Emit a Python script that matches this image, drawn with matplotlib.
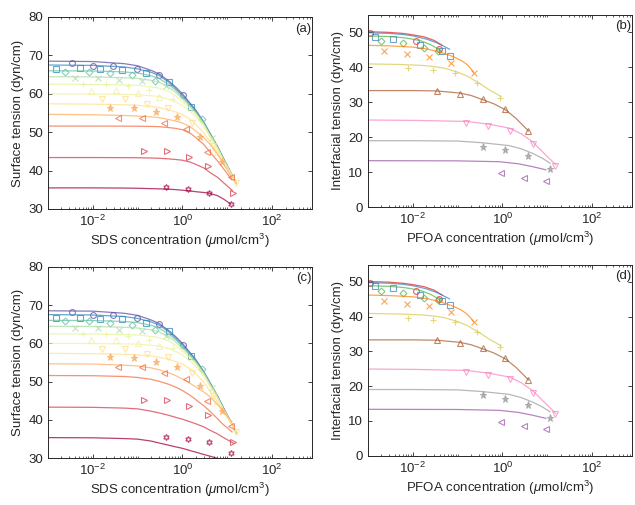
import numpy as np
import matplotlib.pyplot as plt
from matplotlib.ticker import FixedLocator, LogLocator, NullFormatter

plt.rcParams['font.family'] = 'Liberation Sans'
plt.rcParams['mathtext.fontset'] = 'custom'
plt.rcParams['mathtext.rm'] = 'Liberation Sans'
plt.rcParams['mathtext.it'] = 'Liberation Sans:italic'
plt.rcParams['font.size'] = 9.5

# ---- SDS (surface tension) ----
sds_colors = ['#5e4fa2', '#3288bd', '#66c2a5', '#abdda4', '#e6f598', '#f4f0a0',
              '#fee08b', '#fdae61', '#f46d43', '#d53e4f', '#9e0142']
sds_markers = ['o', 's', 'D', 'x', '+', '^', 'v', '*', '<', '>', (6, 1, 0)]

sds_c = [
    [0.0035, 0.0102, 0.0285, 0.095, 0.30, 1.02],
    [0.0015, 0.0052, 0.0147, 0.0457, 0.153, 0.50, 1.53],
    [0.0024, 0.0083, 0.024, 0.076, 0.248, 2.7],
    [0.0040, 0.0131, 0.039, 0.123, 0.43, 4.5],
    [0.006, 0.0195, 0.0616, 0.182, 0.625],
    [0.0093, 0.0327, 0.10, 0.304, 5.85],
    [0.0157, 0.052, 0.158, 0.47, 1.6, 4.9, 16],
    [0.024, 0.083, 0.257, 0.745, 2.48, 7.8],
    [0.0357, 0.127, 0.394, 1.2, 3.5, 12],
    [0.138, 0.445, 1.4, 3.7, 13.3],
    [0.42, 1.36, 4.0, 12.2],
]
sds_g = [
    [68.1, 67.3, 67.3, 66.5, 65.0, 59.6],
    [66.5, 66.7, 66.4, 66.3, 65.4, 63.1, 56.6],
    [65.8, 65.8, 65.3, 64.9, 63.4, 53.4],
    [64.1, 64.1, 63.6, 63.3, 62.0, 48.4],
    [62.55, 62.55, 62.0, 61.0, 58.7],
    [60.8, 61.0, 60.1, 59.2, 44.9],
    [58.6, 58.6, 57.3, 56.4, 52.3, 46.3, 36.8],
    [56.4, 56.2, 55.2, 53.9, 48.8, 42.3],
    [53.8, 53.8, 52.3, 50.8, 44.9, 38.4],
    [45.2, 45.2, 43.6, 41.2, 34.2],
    [35.65, 35.1, 34.2, 31.3],
]

# model curves, read at these concentrations plus a last point per curve
fit_c = [0.001, 0.01, 0.05, 0.1, 0.2, 0.3, 0.5, 0.7, 1, 1.5, 2, 3, 4, 6, 8]
sds_fit_a = [
    [68.5, 68.4, 67.85, 67.3, 66.1, 65.2, 63.3, 61.8, 60.0, 57.5, 55.7, 52.6, 50.0, 46.4, 43.5],
    [67.5, 67.4, 67.0, 66.5, 65.6, 64.8, 63.0, 61.4, 59.6, 57.2, 55.5, 52.5, 49.9, 46.3, 43.4],
    [66.0, 65.95, 65.7, 65.4, 64.7, 64.0, 62.4, 61.0, 59.2, 56.9, 55.3, 52.4, 49.8, 46.2, 43.3],
    [64.45, 64.4, 64.2, 64.0, 63.5, 63.0, 61.7, 60.4, 58.7, 56.6, 55.0, 52.2, 49.6, 46.1, 43.2],
    [62.5, 62.45, 62.3, 62.2, 61.8, 61.5, 60.6, 59.5, 58.0, 56.1, 54.6, 51.9, 49.4, 46.0, 43.1],
    [60.0, 59.95, 59.85, 59.8, 59.5, 59.3, 58.6, 57.9, 57.0, 55.3, 54.0, 51.4, 49.0, 45.7, 42.9],
    [57.4, 57.3, 57.15, 57.0, 56.7, 56.4, 55.8, 55.3, 54.6, 53.3, 52.0, 49.8, 47.8, 44.8, 42.2],
    [54.65, 54.55, 54.35, 54.2, 54.0, 53.8, 53.3, 52.9, 52.4, 51.4, 50.3, 48.6, 47.0, 44.3, 42.0],
    [51.6, 51.6, 51.58, 51.55, 51.5, 51.45, 51.2, 51.0, 50.65, 49.7, 48.6, 46.8, 45.0, 42.6, 40.7],
    [43.4, 43.4, 43.37, 43.35, 43.28, 43.2, 43.05, 42.9, 42.7, 42.2, 41.6, 40.7, 39.6, 38.3, 37.0],
    [35.5, 35.5, 35.45, 35.4, 35.3, 35.25, 35.15, 35.05, 34.9, 34.7, 34.5, 34.3, 34.1, 33.5, 32.7],
]
sds_end_a = [[16, 36.7], [16, 36.7], [16, 36.7], [16, 36.7], [16, 36.8], [16, 36.9],
             [16, 37.0], [12.7, 38.2], [12.7, 37.6], [13, 34.8], [12, 31.3]]

sds_fit_c = sds_fit_a[:7] + [
    [54.65, 54.6, 54.3, 54.1, 53.6, 53.1, 52.3, 51.6, 50.7, 49.5, 48.6, 47.3, 46.2, 44.1, 42.4],
    [51.6, 51.55, 51.35, 51.1, 50.6, 50.1, 49.3, 48.6, 47.7, 46.4, 45.3, 43.7, 42.4, 40.4, 38.9],
    [43.35, 43.3, 43.1, 42.9, 42.3, 41.85, 41.2, 40.7, 40.2, 39.5, 39.0, 38.2, 37.4, 36.4, 35.5],
    [35.4, 35.35, 35.15, 35.0, 34.5, 34.0, 33.4, 33.0, 32.6, 32.0, 31.6, 31.0, 30.6, 30.0, 29.6],
]
sds_end_c = sds_end_a[:7] + [[12.8, 39.5], [12.8, 36.9], [14, 33.9], [10, 29.3]]

# ---- PFOA (interfacial tension) ----
pfoa_colors = ['#e41a1c', '#377eb8', '#4daf4a', '#ff7f00', '#d8c848',
               '#a65628', '#f781bf', '#999999', '#984ea3']
pfoa_markers = ['o', 's', 'D', 'x', '+', '^', 'v', '*', '<']

pfoa_c = [
    [0.0011, 0.0115, 0.038],
    [0.00143, 0.0037, 0.0147, 0.0453, 0.0664],
    [0.002, 0.006, 0.018, 0.0365],
    [0.0023, 0.0074, 0.0227, 0.0725, 0.227],
    [0.0077, 0.0286, 0.088, 0.271, 0.89],
    [0.0354, 0.115, 0.365, 1.17, 3.78],
    [0.151, 0.471, 1.51, 4.71, 15.1],
    [0.365, 1.17, 3.65, 11.5],
    [0.935, 2.97, 9.36],
]
pfoa_g = [
    [49.8, 47.3, 45.1],
    [48.7, 48.1, 46.2, 44.6, 43.3],
    [47.3, 46.8, 45.4, 44.7],
    [44.5, 43.6, 43.0, 41.3, 38.3],
    [39.6, 39.1, 38.3, 35.5, 31.3],
    [33.2, 32.4, 30.9, 28.0, 21.8],
    [24.0, 23.3, 21.9, 18.0, 11.9],
    [17.3, 16.4, 14.5, 10.9],
    [9.7, 8.5, 7.5],
]

pfoa_fit_c = [
    [0.001, 0.003, 0.006, 0.01, 0.018, 0.03, 0.045],
    [0.001, 0.003, 0.006, 0.01, 0.02, 0.035, 0.05, 0.066],
    [0.001, 0.003, 0.006, 0.0086, 0.015, 0.025, 0.035, 0.043],
    [0.001, 0.003, 0.01, 0.02, 0.04, 0.079, 0.12, 0.156, 0.19, 0.227],
    [0.001, 0.005, 0.015, 0.028, 0.05, 0.093, 0.16, 0.26, 0.37, 0.51, 0.7, 0.93],
    [0.001, 0.01, 0.034, 0.11, 0.2, 0.365, 0.65, 1.17, 2.0, 3.8],
    [0.001, 0.01, 0.156, 0.5, 1.42, 2.6, 4.7, 9.3, 15.6],
    [0.001, 0.01, 0.1, 0.365, 1.42, 2.6, 4.7, 8, 11.5],
    [0.001, 0.1, 0.86, 2.3, 4.7, 9.3],
]
pfoa_fit_g = [
    [50.1, 49.9, 49.6, 49.2, 48.6, 47.6, 46.2],
    [49.8, 49.6, 49.3, 48.9, 48.0, 46.9, 45.9, 45.1],
    [48.9, 48.7, 48.4, 48.1, 47.5, 46.4, 45.3, 44.4],
    [46.2, 46.05, 45.7, 45.2, 44.3, 43.0, 41.9, 40.9, 39.8, 38.6],
    [40.9, 40.75, 40.5, 40.2, 39.7, 38.7, 37.5, 35.9, 34.7, 33.5, 32.5, 31.6],
    [33.3, 33.3, 33.2, 32.6, 31.9, 30.7, 29.5, 27.8, 25.4, 21.8],
    [24.9, 24.8, 24.5, 23.7, 22.6, 21.0, 18.7, 14.9, 12.1],
    [19.0, 19.0, 18.9, 18.4, 17.6, 16.7, 15.4, 13.9, 12.6],
    [13.3, 13.25, 13.0, 12.4, 11.6, 10.7],
]

ink = '#262626'
fig = plt.figure(figsize=(6.35, 5.05), dpi=100)
W, H = 635, 505


def make_axes(left, top, right, bottom):
    return fig.add_axes([left / W, 1 - bottom / H, (right - left) / W, (bottom - top) / H])


def style(ax, ylim, yticks, xlabel, ylabel, tag):
    ax.set_xscale('log')
    ax.set_xlim(1e-3, 780)
    ax.set_ylim(*ylim)
    ax.set_yticks(yticks)
    ax.xaxis.set_major_locator(FixedLocator([1e-2, 1, 1e2]))
    ax.xaxis.set_minor_locator(LogLocator(base=10, subs=np.arange(1, 10), numticks=30))
    ax.xaxis.set_minor_formatter(NullFormatter())
    ax.tick_params(which='both', direction='in', top=True, right=True, colors=ink,
                   labelsize=9.5)
    ax.tick_params(which='major', length=3, width=0.6)
    ax.tick_params(which='minor', length=1.6, width=0.5)
    for s in ax.spines.values():
        s.set_linewidth(0.7)
        s.set_color(ink)
    ax.set_xlabel(xlabel, color=ink, labelpad=2)
    ax.set_ylabel(ylabel, color=ink, labelpad=3)
    ax.text(0.997, 0.94, tag, transform=ax.transAxes, ha='right', va='center',
            color=ink, fontsize=9.5)


def marker_size(m):
    # diamonds and stars read better at slightly different sizes
    return {'D': 3.5, '*': 5.2}.get(m, 4.2) if isinstance(m, str) else 4.4


def draw_sds(ax, fits, ends):
    for i in range(11):
        col = sds_colors[i]
        m = sds_markers[i]
        ax.plot(fit_c + [ends[i][0]], fits[i] + [ends[i][1]], color=col, lw=0.9, alpha=0.75)
        ax.plot(sds_c[i], sds_g[i], ls='none', marker=m, ms=marker_size(m),
                mec=col, mfc=col if m == '*' else 'none', mew=0.8, alpha=0.75)


def draw_pfoa(ax):
    for i in range(9):
        col = pfoa_colors[i]
        m = pfoa_markers[i]
        ax.plot(pfoa_fit_c[i], pfoa_fit_g[i], color=col, lw=0.9, alpha=0.7)
        ax.plot(pfoa_c[i], pfoa_g[i], ls='none', marker=m, ms=marker_size(m),
                mec=col, mfc=col if m == '*' else 'none', mew=0.8, alpha=0.7)


sds_label = r'SDS concentration ($\mu$mol/cm$^3$)'
pfoa_label = r'PFOA concentration ($\mu$mol/cm$^3$)'

ax_a = make_axes(48, 17, 312, 209)
draw_sds(ax_a, sds_fit_a, sds_end_a)
style(ax_a, (30, 80), range(30, 81, 10), sds_label, 'Surface tension (dyn/cm)', '(a)')

ax_b = make_axes(368, 14.5, 632, 207.3)
draw_pfoa(ax_b)
style(ax_b, (0, 55), range(0, 51, 10), pfoa_label, 'Interfacial tension (dyn/cm)', '(b)')

ax_c = make_axes(48, 266.7, 312, 458.3)
draw_sds(ax_c, sds_fit_c, sds_end_c)
style(ax_c, (30, 80), range(30, 81, 10), sds_label, 'Surface tension (dyn/cm)', '(c)')

ax_d = make_axes(368, 264.5, 632, 455.5)
draw_pfoa(ax_d)
style(ax_d, (0, 55), range(0, 51, 10), pfoa_label, 'Interfacial tension (dyn/cm)', '(d)')

fig.savefig('out.png', dpi=100)
